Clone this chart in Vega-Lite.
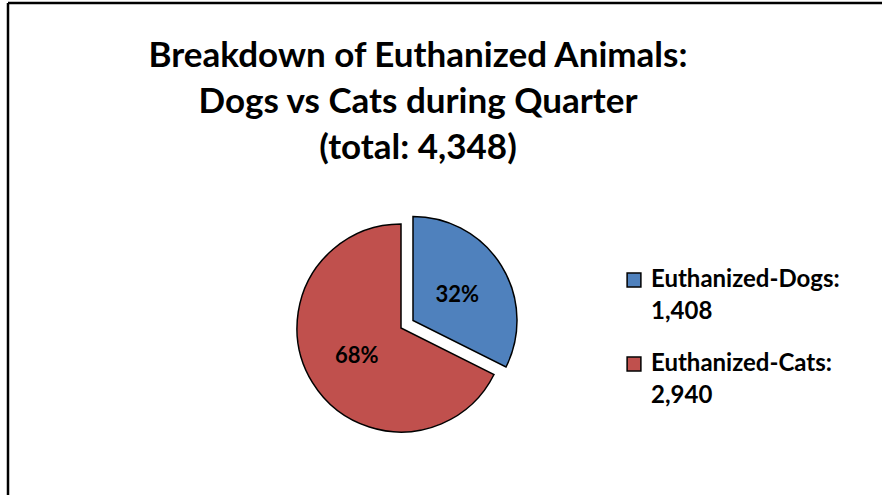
{
  "$schema": "https://vega.github.io/schema/vega-lite/v6.json",
  "width": 882,
  "height": 495,
  "autosize": {"type": "fit", "contains": "padding"},
  "padding": {"left": 8, "top": 3, "right": 0, "bottom": 0},
  "background": "white",
  "view": {"stroke": "black", "strokeWidth": 2.5, "strokeDash": [874, 1366, 492, 0], "fill": "white"},
  "config": {
    "font": "Lato"
  },
  "title": {
    "text": ["Breakdown of Euthanized Animals:", "Dogs vs Cats during Quarter", "(total: 4,348)"],
    "font": "Lato",
    "fontSize": 35,
    "fontWeight": "bold",
    "color": "black",
    "lineHeight": 46,
    "anchor": "middle",
    "baseline": "alphabetic",
    "offset": -191,
    "dx": -27
  },
  "data": {
    "values": [
      {"animal": "Euthanized-Dogs", "legend": "Euthanized-Dogs: 1,408", "count": 1408, "pct": "32%", "order": 1},
      {"animal": "Euthanized-Cats", "legend": "Euthanized-Cats: 2,940", "count": 2940, "pct": "68%", "order": 2}
    ]
  },
  "encoding": {
    "theta": {"field": "count", "type": "quantitative", "stack": true},
    "order": {"field": "order", "type": "quantitative"},
    "color": {
      "field": "legend",
      "type": "nominal",
      "sort": null,
      "scale": {"domain": ["Euthanized-Dogs: 1,408", "Euthanized-Cats: 2,940"], "range": ["#4F81BD", "#C0504D"]},
      "legend": {
        "title": null,
        "orient": "none",
        "legendX": 614,
        "legendY": 265,
        "padding": 0,
        "symbolType": "square",
        "symbolSize": 190,
        "symbolStrokeColor": "black",
        "symbolStrokeWidth": 1.5,
        "symbolOpacity": 1,
        "labelFont": "Lato",
        "labelFontSize": 24,
        "labelFontWeight": "bold",
        "labelColor": "black",
        "labelBaseline": "middle",
        "labelOffset": 5,
        "labelLimit": 300,
        "rowPadding": 28,
        "labelExpr": "split(datum.label, ' ')",
        "encode": {
          "labels": {"update": {"lineHeight": {"value": 32}}}
        }
      }
    }
  },
  "layer": [
    {
      "mark": {"type": "arc", "stroke": "black", "strokeWidth": 1.5, "xOffset": -44, "yOffset": 79, "outerRadius": 104},
      "encoding": {
        "fillOpacity": {"condition": {"test": "datum.animal == 'Euthanized-Cats'", "value": 1}, "value": 0},
        "strokeOpacity": {"condition": {"test": "datum.animal == 'Euthanized-Cats'", "value": 1}, "value": 0}
      }
    },
    {
      "mark": {"type": "arc", "stroke": "black", "strokeWidth": 1.5, "xOffset": -32, "yOffset": 71.5, "outerRadius": 104},
      "encoding": {
        "fillOpacity": {"condition": {"test": "datum.animal == 'Euthanized-Dogs'", "value": 1}, "value": 0},
        "strokeOpacity": {"condition": {"test": "datum.animal == 'Euthanized-Dogs'", "value": 1}, "value": 0}
      }
    },
    {
      "mark": {"type": "text", "radius": 52, "xOffset": -44, "yOffset": 80, "font": "Lato", "fontSize": 22, "fontWeight": "bold", "fill": "black"},
      "encoding": {
        "text": {"field": "pct"},
        "color": {"value": "black"},
        "opacity": {"condition": {"test": "datum.animal == 'Euthanized-Cats'", "value": 1}, "value": 0}
      }
    },
    {
      "mark": {"type": "text", "radius": 52, "xOffset": -32, "yOffset": 73, "font": "Lato", "fontSize": 22, "fontWeight": "bold", "fill": "black"},
      "encoding": {
        "text": {"field": "pct"},
        "color": {"value": "black"},
        "opacity": {"condition": {"test": "datum.animal == 'Euthanized-Dogs'", "value": 1}, "value": 0}
      }
    }
  ]
}
